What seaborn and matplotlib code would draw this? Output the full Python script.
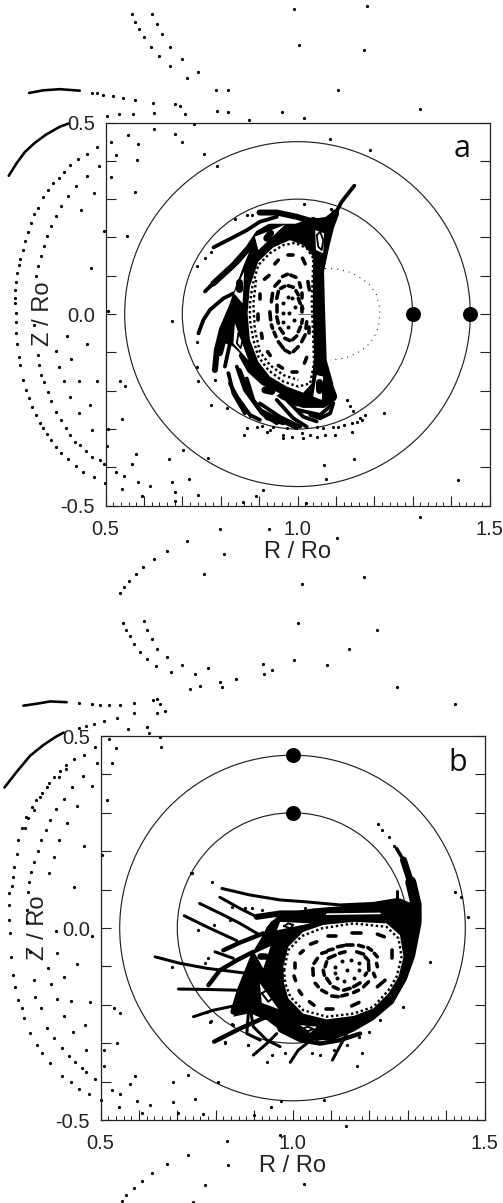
import matplotlib
matplotlib.use("Agg")
import matplotlib.pyplot as plt
from matplotlib.patches import Circle, Polygon
import numpy as np
import pandas as pd
import seaborn as sns

# ---------- panel a : scattered puncture points (R/Ro, Z/Ro) ----------
a_top_dots = [(.568,.784),(.576,.763),(.588,.743),(.601,.722),(.618,.697),(.640,.673),(.668,.647),(.713,.617),(.788,.584),(.819,.586),
 (.622,.784),(.635,.757),(.648,.730),(.668,.697),(.698,.665),(.741,.631),(.991,.797),(1.181,.803),(1.005,.703),(1.173,.690),(1.106,.584),
 (1.319,.534),(.959,.527),(1.017,.512),(.874,.506),(.819,.527),(.791,.531),(.708,.523),(.694,.543),(.681,.548),(.627,.525),(.624,.552),
 (.576,.558),(.572,.523),(.536,.522),(.505,.517),(.731,.496),(.626,.483),(.681,.470),(.698,.448),(.756,.419),(.791,.386),(1.085,.456),
 (1.189,.427),(1.016,.287),(.515,.450),(.559,.467),(.585,.443),(.527,.415),(.581,.403),(.484,.386),(.515,.357),(.577,.319),(.469,.317),
 (.496,.217),(.557,.203),(.461,.119),(.437,.271),(.451,.360),(.464,.577),(.477,.576),(.494,.573),(.520,.569),(.546,.565)]
a_arc_outer = [(.478,.435),(.452,.419),(.429,.404),(.408,.389),(.391,.372),(.378,.356),(.364,.343),(.351,.324),(.336,.306),(.323,.278),(.314,.261),
 (.307,.237),(.297,.213),(.290,.191),(.284,.167),(.277,.145),(.274,.128),(.270,.106),(.266,.084),(.264,.063),(.264,.041),(.264,.028),(.266,.002),
 (.266,-.020),(.268,-.050),(.270,-.077),(.274,-.111),(.277,-.133),(.286,-.172),(.293,-.198),(.300,-.220),(.309,-.242),(.319,-.263),(.329,-.285),
 (.338,-.298),(.348,-.314),(.359,-.329),(.372,-.346),(.385,-.363),(.403,-.379),(.423,-.396),(.442,-.411),(.470,-.426),(.498,-.442)]
a_arc_inner = [(.424,.334),(.403,.308),(.385,.282),(.370,.256),(.359,.230),(.348,.203),(.339,.177),(.332,.151),(.325,.126),(.319,.100),(.314,-.029),
 (.323,-.107),(.327,-.133),(.333,-.159),(.339,-.177),(.349,-.203),(.359,-.226),(.372,-.255),(.385,-.277),(.396,-.298),(.407,-.315),(.420,-.333),
 (.433,-.342),(.450,-.357),(.464,-.372),(.485,-.381),(.496,-.392),(.527,-.411),(.548,-.422)]
a_low_dots = [(.401,-.057),(.452,-.077),(.370,-.096),(.411,-.117),(.378,-.137),(.391,-.175),(.431,-.175),(.478,-.175),(.537,-.175),(.552,-.188),
 (.408,-.217),(.459,-.237),(.431,-.259),(.464,-.303),(.507,-.300),(.542,-.275),(.504,-.344),(.580,-.366),(.568,-.392),(.585,-.438),(.615,-.449),
 (.542,-.457),(.596,-.474),(.666,-.379),(.672,-.437),(.718,-.431),(.681,-.464),(.681,-.488),(.740,-.473),(.702,-.354),(.766,-.375),(.672,-.017),
 (.507,.009),(.859,-.490),(.893,-.474),(.911,-.459),(1.069,-.395),(1.148,-.379),(1.075,-.430),(1.417,-.434),(1.226,-.257),(1.022,-.494),
 (1.319,-.530),(.799,-.561),(.926,-.562),(1.104,-.584),(.711,-.591),(.661,-.617),(.809,-.625),(.626,-.639),(.598,-.659),(.580,-.679),(.562,-.697),
 (.549,-.713),(.538,-.729),(.757,-.677),(1.011,-.705),(1.173,-.685)]
a_core_dots = [(.774,-.237),(.817,-.246),(.868,-.298),(.895,-.294),(.907,-.292),(.861,-.315),(.920,-.308),(.928,-.302),(.963,-.315),(.963,-.324),
 (.985,-.320),(1.011,-.311),(1.015,-.324),(1.033,-.315),(1.050,-.320),(1.072,-.315),(1.093,-.294),(1.106,-.294),(1.098,-.315),(1.121,-.289),
 (1.141,-.285),(1.141,-.307),(1.154,-.281),(1.163,-.272),(1.176,-.263),(1.167,-.276),(1.128,-.224),(1.137,-.241),(1.145,-.254),(.742,-.174),
 (.737,-.139),(.737,-.074),(.742,-.050),(.785,-.172),(.876,-.267),(.937,-.294),(.972,-.298),(1.067,-.298),(1.050,-.295),(.759,.146),(.774,.163),
 (.737,.126),(.837,.247),(.868,.259),(.882,.259),(1.086,.273)]
a_center_dots = [(.963,.030),(.974,.044),(.985,.041),(.994,.019),(.961,.002),(.963,-.020),(.976,-.033),(.991,-.015),(1.011,.015),(.979,.004)]
a_dotted_curve = [[(1.072,.119),(1.102,.118),(1.137,.109),(1.167,.093),(1.189,.076),(1.206,.050),(1.215,.011),(1.211,-.033),(1.198,-.063),
 (1.180,-.085),(1.154,-.102),(1.124,-.115),(1.085,-.120)]]
a_chain_rings = [[(1.041,.146),(1.024,.172),(.994,.186),(.963,.180),(.928,.159),(.898,.128),(.883,.076),(.876,.028),(.876,-.015),(.885,-.067),
 (.898,-.111),(.924,-.146),(.963,-.176),(1.002,-.189),(1.033,-.181),(1.043,-.128),(1.041,-.059),(1.037,.028),(1.040,.106),(1.041,.146)],
 [(.892,.089),(.885,.028),(.889,-.041),(.902,-.098),(.928,-.133),(.963,-.159),(1.002,-.172)]]
a_dashes = [[(.976,.154),(.989,.154)],[(.941,.131),(.950,.141)],[(.914,.091),(.926,.101)],[(.902,.053),(.902,.039)],[(.898,.000),(.898,-.015)],
 [(.906,-.050),(.908,-.063)],[(.922,-.098),(.929,-.108)],[(.950,-.134),(.961,-.141)],[(.985,-.150),(.998,-.150)],[(1.018,-.128),(1.024,-.113)],
 [(1.013,.146),(1.020,.131)],[(1.027,.085),(1.031,.063)],
 [(.961,.098),(.974,.104)],[(.982,.102),(.996,.096)],[(1.005,.082),(1.008,.070)],[(1.013,.054),(1.013,.041)],[(.941,.073),(.953,.086)],
 [(.932,.032),(.935,.054)],[(.928,.006),(.930,-.015)],[(.932,-.028),(.935,-.037)],[(.939,-.047),(.944,-.059)],[(.950,-.072),(.963,-.089)],
 [(.967,-.094),(.980,-.101)],[(.989,-.098),(1.002,-.085)],[(1.011,-.072),(1.020,-.054)],[(1.022,-.037),(1.024,-.020)],
 [(.946,.041),(.950,.059)],[(.956,.067),(.967,.073)],[(.976,.074),(.989,.070)],[(.996,.061),(1.002,.050)],[(1.002,.041),(1.007,.028)],
 [(.946,.024),(.946,.006)],[(.946,-.007),(.950,-.024)],[(.954,-.037),(.963,-.050)],[(.967,-.063),(.980,-.069)],[(.987,-.067),(.998,-.057)],
 [(1.002,-.046),(1.008,-.033)],[(1.011,-.024),(1.013,-.014)],[(1.031,-.033),(1.031,-.050)],[(1.011,.021),(1.011,.006)]]
a_hair = [[(1.002,0.),(1.041,0.)]]
a_mass = [(1.085,.237),(1.041,.254),(.989,.233),(.928,.233),(.898,.211),(.876,.167),(.855,.115),(.833,.046),(.820,-.015),(.811,-.076),(.833,-.085),
 (.859,-.111),(.894,-.163),(.937,-.207),(.998,-.241),(1.076,-.237),(1.093,-.215),(1.093,-.181),(1.076,-.120),(1.072,.002),(1.069,.115),(1.085,.193)]
a_void = [(1.041,.150),(1.015,.180),(.980,.193),(.937,.174),(.898,.137),(.876,.072),(.870,.002),(.876,-.067),(.898,-.124),(.928,-.163),(.972,-.189),
 (1.015,-.205),(1.037,-.181),(1.043,-.111),(1.040,.002),(1.040,.098)]
a_bands_heavy = [[(1.098,.263),(1.085,.228),(1.072,.176),(1.059,.115),(1.053,.028),(1.053,-.059),(1.063,-.128),(1.080,-.181),(1.093,-.215)]]
a_bands_mid = [[(.901,.265),(.946,.265),(.998,.254),(1.041,.241),(1.076,.246),(1.093,.259)],
 [(.781,.080),(.833,.128),(.872,.172),(.898,.211),(.928,.228),(.980,.228),(1.033,.228)],
 [(.785,-.146),(.790,-.094),(.803,-.041),(.829,.020),(.850,.080),(.872,.132),(.898,.189)],
 [(.798,-.102),(.816,-.033),(.842,.011),(.863,.089)],
 [(.855,-.108),(.876,-.146),(.920,-.186),(.963,-.216),(1.015,-.237),(1.067,-.237),(1.093,-.220)]]
a_bands_thin = [[(1.148,.335),(1.132,.315),(1.115,.293),(1.100,.265),(1.086,.233)],
 [(.781,.174),(.824,.196),(.868,.219),(.902,.241),(.946,.254)],
 [(.868,-.168),(.885,-.224),(.920,-.272),(.963,-.285)],
 [(.842,-.137),(.863,-.198),(.902,-.250),(.954,-.276),(.998,-.298)],
 [(.946,-.224),(.989,-.272),(1.024,-.294)],
 [(1.033,-.263),(1.059,-.272),(1.085,-.259),(1.093,-.233)],
 [(.820,-.154),(.833,-.207),(.863,-.259)],
 [(.759,.059),(.798,.098),(.833,.124)],
 [(.742,-.050),(.755,-.015),(.772,.011),(.807,.041),(.833,.054)],
 [(.785,-.146),(.794,-.076),(.816,-.024),(.837,.011)],
 [(.811,-.137),(.824,-.076),(.846,-.015)],
 [(.824,-.181),(.842,-.215),(.876,-.263),(.902,-.276)],
 [(.850,-.146),(.876,-.215),(.907,-.259),(.946,-.285)],
 [(.902,-.233),(.954,-.268),(1.007,-.294)],
 [(.972,-.224),(1.015,-.268),(1.050,-.280)],
 [(1.000,-.250),(1.059,-.263),(1.093,-.233)],
 [(.772,.072),(.811,.106),(.846,.137),(.876,.172)]]
a_white = [[(.889,.202),(.967,.233),(.898,.167)],[(.861,.111),(.835,.054),(.857,.028)],[(.837,-.024),(.833,-.076),(.872,-.120)],
 [(.898,-.181),(.954,-.207),(.928,-.224)],[(1.050,-.159),(1.067,-.163),(1.063,-.224),(1.041,-.215)],[(1.046,.219),(1.069,.211),(1.067,.159),(1.048,.167)]]
a_blobs = [[(.920,.198),(.930,.211)],[(.848,.085),(.848,.065)],[(.915,-.198),(.933,-.202)],[(1.057,-.176),(1.057,-.198)]]
a_rings = [[(.846,-.050),(.857,-.068),(.852,-.089),(.842,-.076),(.846,-.050)],[(1.050,.206),(1.059,.215),(1.067,.193),(1.063,.167),(1.054,.176),(1.050,.206)]]
a_arcs_thick = [[(.301,.577),(.338,.584),(.381,.587),(.433,.583)],[(.248,.361),(.268,.393),(.290,.423),(.316,.447),(.346,.469),(.381,.489),(.403,.497)]]
a_big = [(1.30,0.),(1.45,0.)]

# ---------- panel b ----------
b_top_dots = [(.558,.793),(.566,.776),(.576,.760),(.587,.740),(.602,.719),(.621,.700),(.644,.682),(.683,.667),(.734,.622),(.612,.799),(.621,.776),
 (.633,.753),(.648,.726),(.672,.705),(.712,.685),(.747,.662),(.781,.676),(.812,.641),(.816,.628),(.760,.630),(.854,.648),(.922,.688),(.927,.661),
 (.946,.671),(1.005,.697),(1.014,.793),(1.091,.685),(1.146,.727),(1.220,.777),(1.271,.627),(1.422,.583),(.637,.594),(.648,.597),(.656,.583),
 (.667,.566),(.648,.559),(.587,.560),(.542,.547),(.508,.539),(.483,.532),(.463,.526),(.443,.521),(.572,.519),(.621,.523),(.625,.507),(.654,.497),
 (.658,.471),(.541,.469),(.523,.491),(.531,.429),(.485,.472),(.490,.429),(.457,.451),(.479,.370),(.516,.333),(.454,.396),(.438,.319),(.425,.366),
 (.457,.214),(.503,.190),(.430,.107),(.365,.142),(.391,.229),(.412,.273),(.385,.309),(.404,.335),(.378,.186),(.737,.144),(1.422,.093),(1.439,.082),
 (.443,.585),(.477,.583),(.499,.582),(.523,.581),(.551,.582),(.586,.585)]
b_arc_outer = [(.431,.439),(.411,.424),(.395,.409),(.378,.392),(.365,.378),(.347,.352),(.332,.333),(.321,.314),(.306,.290),(.296,.260),(.286,.229),
 (.282,.194),(.275,.160),(.271,.134),(.269,.109),(.263,.090),(.262,.060),(.263,.021),(.265,-.014),(.266,-.075),(.272,-.122),(.278,-.153),(.286,-.188),
 (.295,-.209),(.301,-.235),(.317,-.274),(.334,-.305),(.347,-.326),(.369,-.352),(.399,-.385),(.423,-.402),(.443,-.418),(.471,-.432),(.501,-.448)]
b_arc_mid = [(.411,.413),(.393,.394),(.360,.368),(.343,.342),(.326,.307),(.312,.286),(.304,.260)]
b_arc_inner = [(.369,.281),(.358,.255),(.344,.229),(.336,.201),(.328,.173),(.320,.147),(.315,.121),(.312,.095),(.308,.047),(.308,.016),(.317,-.062),
 (.326,-.135),(.330,-.179),(.345,-.209),(.360,-.261),(.378,-.287),(.399,-.313),(.417,-.333),(.434,-.348),(.451,-.365),(.463,-.374),(.486,-.393)]
b_low_dots = [(.384,-.008),(.388,-.066),(.438,-.094),(.362,-.103),(.404,-.127),(.372,-.147),(.386,-.186),(.424,-.190),(.473,-.194),(.404,-.228),
 (.459,-.253),(.429,-.270),(.463,-.318),(.534,-.208),(.552,-.222),(.543,-.299),(.508,-.318),(.508,-.359),(.531,-.422),(.551,-.431),(.576,-.406),
 (.589,-.385),(.547,-.465),(.596,-.451),(.628,-.461),(.608,-.481),(.688,-.402),(.729,-.383),(.690,-.452),(.745,-.446),(.807,-.402),(.945,-.465),
 (.969,-.450),(1.083,-.448),(1.168,-.359),(1.182,-.326),(.701,-.483),(.766,-.484),(.900,-.487),(1.458,.028),(1.139,-.515),(.968,-.540),(.829,-.554),
 (.729,-.591),(.672,-.615),(.635,-.637),(.608,-.659),(.588,-.678),(.567,-.695),(.555,-.711),(.833,-.617),(.773,-.669),(.740,-.713),(1.030,-.667),(.477,-.021)]
b_core_dots = [(1.222,.272),(1.234,.255),(1.250,.238),(1.264,.214),(.791,.120),(.736,.144),(.753,-.004),(.685,-.101),(.781,-.079),(.772,-.091),
 (.787,-.242),(.842,-.249),(.824,-.296),(.883,-.305),(1.289,-.205),(1.358,-.088),(.842,.055),(.876,.051),(.894,.051),(.920,.048),(1.033,.051),
 (.796,.009),(.837,.021),(.846,-.253),(.884,-.305),(.933,-.348),(.946,-.332),(.981,-.326),(1.050,-.326),(1.072,-.331),(1.141,-.305),(1.172,-.283),
 (1.198,-.270),(1.228,-.240),(1.107,-.318),(.825,-.299),(.786,-.244),(.777,-.218)]
b_center_dots = [(1.111,-.101),(1.111,-.118),(1.128,-.085),(1.152,-.084),(1.172,-.092),(1.174,-.110),(1.159,-.130),(1.134,-.137),(1.115,-.131),(1.141,-.110)]
b_chain_rings = [[(.978,-.110),(.989,-.058),(1.024,-.021),(1.076,-.001),(1.159,.012),(1.245,.003),(1.276,-.027),(1.284,-.075),(1.271,-.127),(1.250,-.162),
 (1.211,-.205),(1.159,-.223),(1.089,-.231),(1.028,-.214),(.994,-.179),(.981,-.144),(.978,-.110)]]
b_dashes = [[(1.093,-.021),(1.113,-.021)],[(1.156,-.014),(1.178,-.014)],[(1.221,-.016),(1.239,-.023)],[(1.258,-.058),(1.258,-.077)],[(1.241,-.136),(1.221,-.153)],
 [(1.154,-.203),(1.173,-.194)],[(1.087,-.211),(1.106,-.211)],[(1.044,-.192),(1.056,-.201)],[(1.017,-.163),(1.024,-.173)],[(1.004,-.125),(1.008,-.137)],
 [(1.007,-.092),(1.007,-.103)],[(1.020,-.066),(1.028,-.059)],[(1.047,-.042),(1.063,-.036)],
 [(1.076,-.066),(1.089,-.062)],[(1.093,-.058),(1.106,-.055)],[(1.117,-.049),(1.133,-.046)],[(1.139,-.045),(1.157,-.045)],[(1.172,-.045),(1.185,-.049)],
 [(1.196,-.051),(1.206,-.058)],[(1.213,-.066),(1.221,-.075)],[(1.219,-.092),(1.221,-.101)],[(1.211,-.118),(1.215,-.127)],[(1.185,-.153),(1.198,-.140)],
 [(1.159,-.168),(1.172,-.162)],[(1.128,-.177),(1.143,-.173)],[(1.102,-.177),(1.119,-.179)],[(1.076,-.162),(1.089,-.169)],[(1.059,-.144),(1.067,-.153)],
 [(1.053,-.105),(1.054,-.123)],[(1.056,-.092),(1.065,-.079)],
 [(1.085,-.101),(1.089,-.088)],[(1.093,-.079),(1.111,-.071)],[(1.122,-.066),(1.137,-.062)],[(1.167,-.062),(1.185,-.068)],[(1.189,-.075),(1.198,-.085)],
 [(1.198,-.092),(1.199,-.110)],[(1.193,-.117),(1.189,-.123)],[(1.159,-.153),(1.176,-.143)],[(1.133,-.162),(1.150,-.157)],[(1.106,-.153),(1.119,-.159)],
 [(1.089,-.131),(1.098,-.144)],[(1.080,-.110),(1.083,-.123)]]
b_mass = [(1.332,.055),(1.336,.012),(1.319,-.075),(1.297,-.136),(1.263,-.196),(1.211,-.240),(1.159,-.270),(1.106,-.292),(1.020,-.292),(.968,-.266),
 (.933,-.240),(.889,-.222),(.846,-.231),(.863,-.162),(.898,-.075),(.933,.003),(.968,.038),(1.054,.051),(1.167,.060),(1.280,.077)]
b_void = [(.976,-.101),(.989,-.049),(1.028,-.010),(1.080,.008),(1.159,.016),(1.245,.012),(1.280,-.019),(1.289,-.075),(1.276,-.127),(1.250,-.170),
 (1.211,-.209),(1.159,-.229),(1.089,-.238),(1.028,-.223),(.989,-.183),(.978,-.144)]
b_wedge_small = [[(1.271,.207),(1.289,.177)]]
b_wedge_mid = [[(1.289,.177),(1.306,.125)]]
b_wedge_big = [[(1.308,.120),(1.322,.060),(1.322,.021)]]
b_bands_mid = [[(.907,.029),(.968,.038),(1.037,.038),(1.089,.042),(1.141,.047),(1.228,.051),(1.323,.060)],
 [(.950,.012),(.924,-.032),(.898,-.075),(.863,-.162),(.846,-.218)]]
b_bands_thin = [[(1.323,.029),(1.323,.003),(1.310,-.066),(1.293,-.127),(1.258,-.188),(1.211,-.231),(1.159,-.257),(1.089,-.275),(1.020,-.275),(.968,-.240)],
 [(.796,-.296),(.863,-.262),(.937,-.229)],[(.820,-.058),(.863,-.038),(.924,-.014)],[(.781,-.149),(.811,-.110),(.855,-.084),(.898,-.062)],
 [(.950,-.223),(.968,-.266),(1.020,-.292),(1.072,-.301),(1.124,-.292),(1.176,-.275)]]
b_bands_fine = [[(.816,.103),(.889,.086),(.968,.073),(1.037,.068),(1.124,.060),(1.211,.064),(1.271,.074)],
 [(.811,.080),(.863,.051),(.907,.029)],[(.758,.064),(.820,.034),(.863,.012),(.911,-.016)],[(.718,.032),(.777,.003),(.855,-.033)],
 [(.642,-.075),(.707,-.092),(.777,-.105),(.881,-.118)],[(.703,-.159),(.777,-.160),(.855,-.162)],[(.742,-.231),(.794,-.214),(.881,-.196)],
 [(.898,-.331),(.933,-.301),(.959,-.275)],[(.994,-.350),(1.015,-.318),(1.037,-.301)],[(1.104,-.344),(1.146,-.266)],
 [(.798,-.062),(.846,-.079)],[(.889,-.205),(.898,-.257),(.933,-.292),(.968,-.309)],[(.885,-.223),(.881,-.275),(.916,-.292)],
 [(1.271,.097),(1.271,.072)]]
b_white = [[(.959,-.006),(1.046,.012),(.968,.016)],[(.902,-.066),(.943,-.047),(.924,-.105)],[(.915,-.144),(.963,-.211),(.920,-.195)],
 [(1.020,-.253),(1.063,-.257),(1.046,-.273)]]
b_stripe = [[(1.089,.036),(1.228,.038)]]
b_blobs = [[(.915,-.072),(.929,-.072)]]
b_rings = [[(.978,.005),(.989,.012),(1.002,.008),(.994,-.001),(.978,.005)],[(.920,-.170),(.933,-.162),(.948,-.183),(.937,-.192),(.920,-.170)],
 [(1.026,-.262),(1.040,-.257),(1.054,-.263),(1.040,-.269),(1.026,-.262)]]
b_arcs_thick = [[(.299,.579),(.334,.584),(.369,.590),(.412,.588)],[(.250,.366),(.282,.407),(.317,.449),(.352,.477),(.382,.497),(.404,.509)]]
b_big = [(1.0,.45),(1.0,.30)]

circle_radii = [0.30, 0.45]
y_major = [-.5,-.4,-.3,-.2,-.1,0,.1,.2,.3,.4,.5]
x_major = [.5,.6,.7,.8,.9,1.0,1.1,1.2,1.3,1.4,1.5]
x_minor = [.52,.54,.56,.58,.62,.64,.66,.68,.72,.74,.76,.78,.82,.84,.86,.88,.92,.94,.96,.98,
           1.02,1.04,1.06,1.08,1.12,1.14,1.16,1.18,1.22,1.24,1.26,1.28,1.32,1.34,1.36,1.38,1.42,1.44,1.46,1.48]
y_labels = ["-0.5","","","","","0.0","","","","","0.5"]
x_labels = ["0.5","","","","","1.0","","","","","1.5"]

sns.set_style("white")
plt.rcParams["font.family"] = ["Liberation Sans", "DejaVu Sans"]
W, H = 503, 1203
PX = 0.72  # points per pixel at dpi 100
fig = plt.figure(figsize=(W/100, H/100), dpi=100, facecolor="white")


def strokes(ax, groups, width, color="black", z=2, **kw):
    rows = [(i, r, zz) for i, g in enumerate(groups) for r, zz in g]
    df = pd.DataFrame(rows, columns=["stroke", "R", "Z"])
    sns.lineplot(data=df, x="R", y="Z", units="stroke", estimator=None, sort=False, errorbar=None,
                 color=color, linewidth=width*PX, clip_on=False, zorder=z, legend=False, ax=ax,
                 **kw)


def dots(ax, pts, size=3.2, z=2):
    df = pd.DataFrame(pts, columns=["R", "Z"])
    sns.scatterplot(data=df, x="R", y="Z", color="black", s=(size*PX)**2, linewidth=0,
                    clip_on=False, zorder=z, legend=False, ax=ax)


def frame(rect):
    l, t, w, h = rect
    ax = fig.add_axes([l/W, 1-(t+h)/H, w/W, h/H])
    ax.patch.set_alpha(0)
    return ax


def shape(ax, pts, color, z):
    ax.add_patch(Polygon(pts, closed=True, fc=color, ec="none", zorder=z))


def finish(ax, letter, letter_xy):
    ax.set_xlim(.5, 1.5); ax.set_ylim(-.5, .5)
    ax.set_xticks(x_major); ax.set_xticklabels(x_labels)
    ax.set_xticks(x_minor, minor=True)
    ax.set_yticks(y_major); ax.set_yticklabels(y_labels)
    ax.tick_params(axis="x", which="major", direction="in", length=7.2, width=.8, pad=10, labelsize=14.5,
                   bottom=True, top=False, color="#222222", labelcolor="#222222")
    ax.tick_params(axis="x", which="minor", direction="in", length=3, width=.7, bottom=True, top=False, color="#222222")
    ax.tick_params(axis="y", which="major", direction="in", length=7.2, width=.8, pad=7.5, labelsize=14.5,
                   left=True, right=True, color="#222222", labelcolor="#222222")
    for s in ax.spines.values():
        s.set_visible(True); s.set_linewidth(.9); s.set_color("#222222")
    ax.set_xlabel("R / Ro", fontsize=17, color="#222222", va="center")
    ax.set_ylabel("Z / Ro", fontsize=17, color="#222222", va="center")
    ax.xaxis.set_label_coords(.5, -.121)
    ax.yaxis.set_label_coords(-.163, .5)
    ax.text(letter_xy[0], letter_xy[1], letter, family="Open Sans", fontsize=22, color="#111111",
            ha="center", va="center")
    for r in circle_radii:
        ax.add_patch(Circle((1.0, 0.0), r, fill=False, ec="#222222", lw=.85, zorder=1))


def big(ax, pts):
    df = pd.DataFrame(pts, columns=["R", "Z"])
    sns.scatterplot(data=df, x="R", y="Z", color="black", s=(15*PX)**2, linewidth=0,
                    clip_on=False, zorder=6, legend=False, ax=ax)


# panel a
ax = frame((105.5, 122.5, 384, 383.2))
for pts in (a_top_dots, a_arc_outer, a_arc_inner, a_low_dots, a_core_dots):
    dots(ax, pts)
strokes(ax, a_arcs_thick, 2.6)
strokes(ax, a_dotted_curve, 1.0, linestyle=(0, (1, 5)))
shape(ax, a_mass, "black", 2)
strokes(ax, a_bands_heavy, 8)
strokes(ax, a_bands_mid, 6)
strokes(ax, a_bands_thin, 3.8)
for tri in a_white:
    shape(ax, tri, "white", 3)
shape(ax, a_void, "white", 3)
strokes(ax, a_chain_rings, 2.4, z=4, linestyle=(0, (1, 1.1)))
strokes(ax, a_dashes, 3.6, z=4)
dots(ax, a_center_dots, size=4, z=4)
strokes(ax, a_blobs, 7, z=4)
strokes(ax, a_rings, 1.8, z=4)
strokes(ax, a_hair, .8, color="#555555", z=4)
big(ax, a_big)
finish(ax, "a", (1.43, .43))

# panel b
ax = frame((100.5, 736, 384, 384))
for pts in (b_top_dots, b_arc_outer, b_arc_mid, b_arc_inner, b_low_dots, b_core_dots):
    dots(ax, pts)
strokes(ax, b_arcs_thick, 2.6)
strokes(ax, b_wedge_small, 3.5)
strokes(ax, b_wedge_mid, 7)
strokes(ax, b_wedge_big, 11)
shape(ax, b_mass, "black", 2)
strokes(ax, b_bands_mid, 6)
strokes(ax, b_bands_thin, 4.4)
strokes(ax, b_bands_fine, 3)
for tri in b_white:
    shape(ax, tri, "white", 3)
shape(ax, b_void, "white", 3)
strokes(ax, b_stripe, 1.6, color="white", z=3)
strokes(ax, b_chain_rings, 2.4, z=4, linestyle=(0, (1, 1.1)))
strokes(ax, b_dashes, 3.6, z=4)
dots(ax, b_center_dots, size=4, z=4)
strokes(ax, b_blobs, 6.5, z=4)
strokes(ax, b_rings, 2, z=4)
big(ax, b_big)
finish(ax, "b", (1.43, .43))

fig.savefig("out.png", dpi=100)
